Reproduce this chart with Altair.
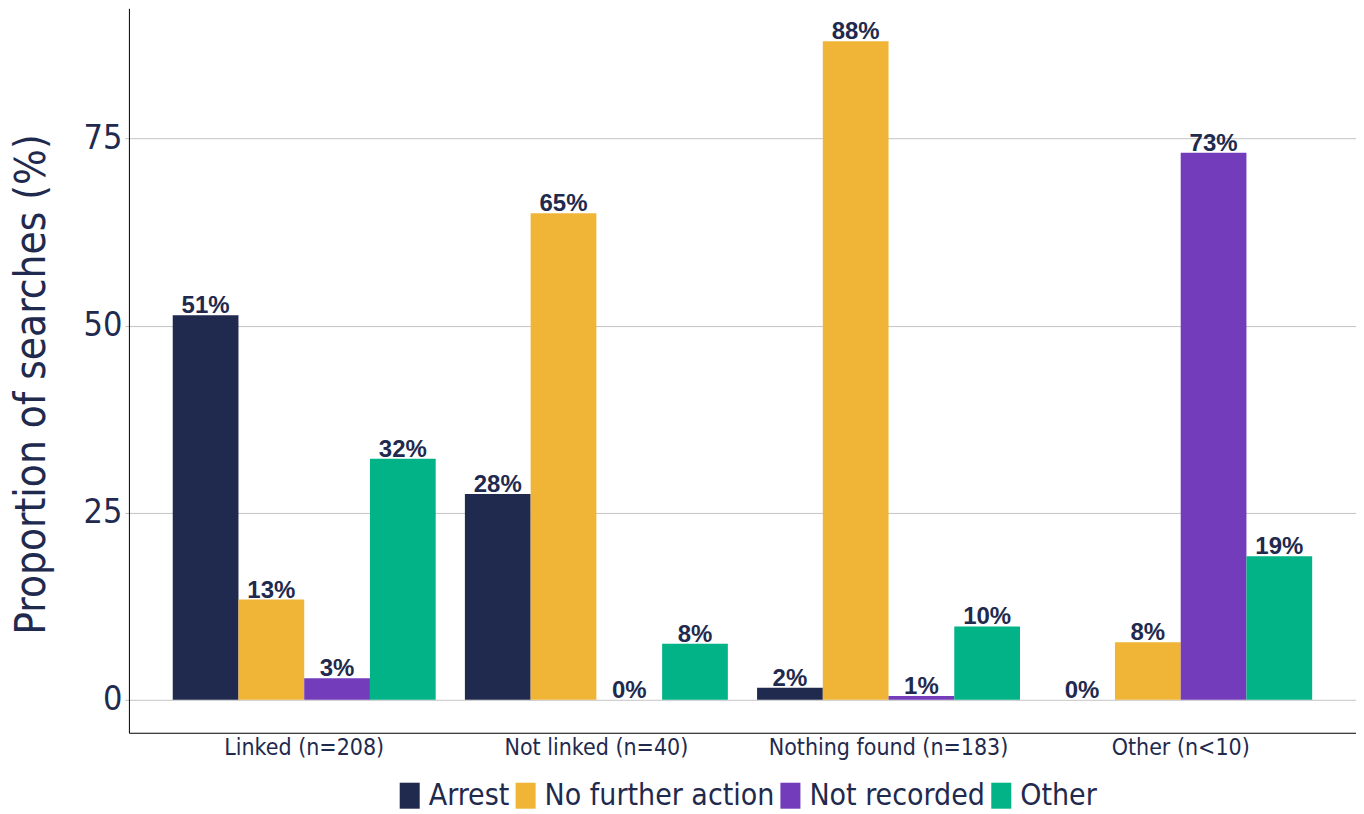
import altair as alt
import pandas as pd

groups = ["Linked (n=208)", "Not linked (n=40)", "Nothing found (n=183)", "Other (n<10)"]
outcomes = ["Arrest", "No further action", "Not recorded", "Other"]
colors = ["#202A4F", "#F0B436", "#733CBA", "#03B388"]

arrest = [51.4, 27.5, 1.6, 0.0]
no_further_action = [13.4, 65.0, 88.0, 7.7]
not_recorded = [2.9, 0.0, 0.5, 73.1]
other = [32.2, 7.5, 9.8, 19.2]

series = [arrest, no_further_action, not_recorded, other]
rows = []
for o, vals in zip(outcomes, series):
    for g, v in zip(groups, vals):
        rows.append({"group": g, "outcome": o, "value": v, "label": f"{int(v + 0.5)}%"})
df = pd.DataFrame(rows)

NAVY = "#1F2A4E"
COND = "DejaVu Sans Condensed, Liberation Sans Narrow, Open Sans, sans-serif"

x = alt.X("group:N", sort=groups, title=None,
          scale=alt.Scale(paddingInner=0.1, paddingOuter=0.15),
          axis=alt.Axis(labelAngle=0, ticks=False, labelFont=COND, labelFontSize=23,
                        labelColor=NAVY, labelPadding=4, domainColor="black", grid=False,
                        labelLimit=0))
xo = alt.XOffset("outcome:N", sort=outcomes, scale=alt.Scale(paddingInner=0, paddingOuter=0))
y = alt.Y("value:Q", title="Proportion of searches (%)",
          scale=alt.Scale(domain=[-4.4, 92.4], nice=False, zero=False),
          axis=alt.Axis(values=[0, 25, 50, 75], labelFont=COND, labelFontSize=34,
                        labelColor=NAVY, tickColor="#BBBBBB", tickSize=4, labelPadding=3,
                        domainColor="black", gridColor="#C4C4C4", titleFont=COND,
                        titleFontSize=42, titleFontWeight="normal", titleColor=NAVY,
                        titleX=-75, titleY=376, titleAnchor="middle", labelLimit=0))

bars = alt.Chart(df).mark_bar(width={"band": 1}).encode(
    x=x, xOffset=xo,
    y=y,
    y2=alt.datum(0),
    color=alt.Color("outcome:N", sort=outcomes,
                    scale=alt.Scale(domain=outcomes, range=colors),
                    legend=alt.Legend(title=None, orient="none", direction="horizontal",
                                      legendX=266, legendY=773,
                                      symbolType="M-0.77,-1H0.77V1H-0.77Z", symbolSize=676,
                                      symbolStrokeWidth=0, symbolOpacity=1,
                                      labelFont=COND, labelFontSize=30, labelColor=NAVY,
                                      columnPadding=1, labelOffset=4, labelLimit=0)),
)

text = alt.Chart(df).mark_text(font="Liberation Sans", fontWeight="bold", fontSize=24,
                               color=NAVY, baseline="alphabetic", dy=-2).encode(
    x=alt.X("group:N", sort=groups), xOffset=alt.XOffset("outcome:N", sort=outcomes),
    y=alt.Y("value:Q"),
    text="label:N",
)

chart = alt.layer(bars, text).properties(
    width=1228, height=725,
    autosize=alt.AutoSizeParams(type="none"),
    padding={"left": 121, "top": 0, "right": 0, "bottom": 81},
).configure_view(stroke=None)

chart.save("out.html", embed_options={"renderer": "svg", "actions": False})
